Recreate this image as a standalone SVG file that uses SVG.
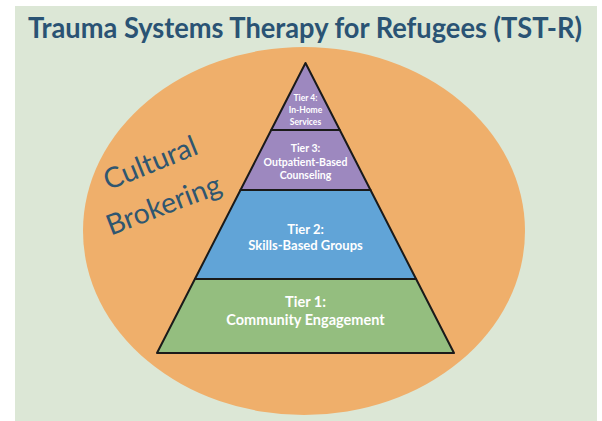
<svg xmlns="http://www.w3.org/2000/svg" width="602" height="421" viewBox="0 0 602 421">
<style>
.title{font-family:"Lato","Open Sans",sans-serif;font-weight:bold;font-size:28px;fill:#2A5374}
.tier{stroke:#1a1a1a;stroke-width:2;stroke-linejoin:round}
.lbl{font-family:"Lato","Open Sans",sans-serif;font-weight:bold;fill:#ffffff;text-anchor:middle}
.cb{font-family:"Lato","Open Sans",sans-serif;font-size:28.5px;fill:#2F5670;text-anchor:middle}
</style>
<rect x="0" y="0" width="602" height="421" fill="#ffffff"/>
<rect x="15" y="6" width="582" height="415" fill="#DCE7D6"/>
<g id="title">
<text class="title" x="305" y="38" text-anchor="middle" textLength="554" lengthAdjust="spacingAndGlyphs">Trauma Systems Therapy for Refugees (TST-R)</text>
</g>
<g id="cultural-brokering">
<ellipse cx="304" cy="231" rx="221" ry="184" fill="#EFAF6B"/>
<text class="cb" transform="rotate(-22 154 172)" x="154" y="172">Cultural</text>
<text class="cb" transform="rotate(-21 167 214)" x="167" y="214">Brokering</text>
</g>
<g id="tier1">
<polygon class="tier" points="194.9,279 416.1,279 454,353 157,353" fill="#94BE7F"/>
<text class="lbl" font-size="14.5" x="305.5" y="307">Tier 1:</text>
<text class="lbl" font-size="14.5" x="305.5" y="325">Community Engagement</text>
</g>
<g id="tier2">
<polygon class="tier" points="240.5,190 370.5,190 416.1,279 194.9,279" fill="#61A4D7"/>
<text class="lbl" font-size="13" x="305.5" y="234">Tier 2:</text>
<text class="lbl" font-size="13" x="305.5" y="250">Skills-Based Groups</text>
</g>
<g id="tier3">
<polygon class="tier" points="271.2,130 339.8,130 370.5,190 240.5,190" fill="#9D88BF"/>
<text class="lbl" font-size="10.5" x="305.5" y="152">Tier 3:</text>
<text class="lbl" font-size="10.5" x="305.5" y="166">Outpatient-Based</text>
<text class="lbl" font-size="10.5" x="305.5" y="179">Counseling</text>
</g>
<g id="tier4">
<polygon class="tier" points="305.5,63 339.8,130 271.2,130" fill="#9D88BF"/>
<text class="lbl" font-size="8.5" x="305.5" y="101">Tier 4:</text>
<text class="lbl" font-size="8.5" x="305.5" y="113">In-Home</text>
<text class="lbl" font-size="8.5" x="305.5" y="125">Services</text>
</g>
</svg>
